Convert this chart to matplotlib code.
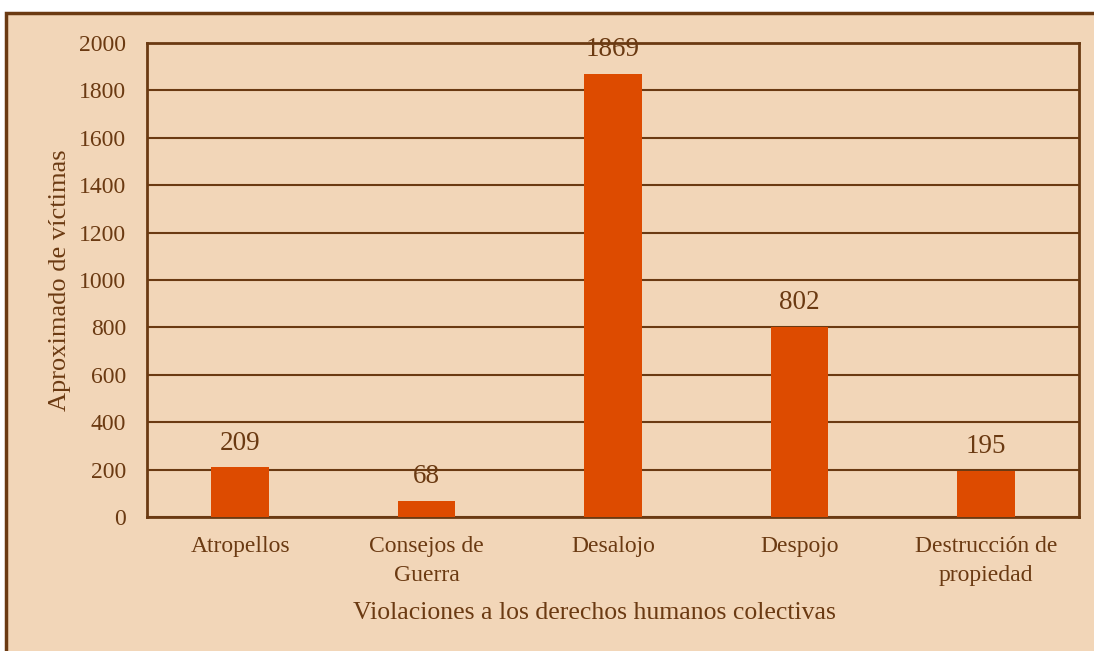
import matplotlib
matplotlib.use("Agg")
import matplotlib.pyplot as plt
from matplotlib.patches import Rectangle

categories = ["Atropellos", "Consejos de\nGuerra", "Desalojo", "Despojo", "Destrucción de\npropiedad"]
values = [209, 68, 1869, 802, 195]
yticks = [0, 200, 400, 600, 800, 1000, 1200, 1400, 1600, 1800, 2000]

bg = "#F2D6B8"
brown = "#6B3A12"
bar_color = "#DD4B00"

plt.rcParams['font.family'] = ['Liberation Serif', 'DejaVu Serif']

fig = plt.figure(figsize=(10.94, 6.51), dpi=100)
fig.patch.set_facecolor("white")
fig.patches.append(Rectangle((6/1094, -0.05), 1.2, 1 - 13/651 + 0.05, transform=fig.transFigure,
                             facecolor=bg, edgecolor=brown, linewidth=2.5, zorder=-10))

ax = fig.add_axes([147/1094, 1 - 517/651, (1079 - 147)/1094, (517 - 43)/651])
ax.set_facecolor(bg)
x = range(len(categories))
ax.bar(x, values, width=0.31, color=bar_color, zorder=3)
for xi, v in zip(x, values):
    ax.text(xi, v + 50, str(v), ha="center", va="bottom", fontsize=19.5, color=brown, zorder=4)

ax.set_xlim(-0.5, len(categories) - 0.5)
ax.set_ylim(0, 2000)
ax.set_yticks(yticks)
ax.set_yticklabels([str(t) for t in yticks], fontsize=17, color=brown)
ax.set_xticks(list(x))
ax.set_xticklabels(categories, fontsize=17, color=brown, linespacing=1.45)
ax.tick_params(axis="y", length=0, pad=15)
ax.tick_params(axis="x", length=0, pad=14)
ax.grid(axis="y", color=brown, linewidth=1.5, zorder=1)
for s in ax.spines.values():
    s.set_color(brown)
    s.set_linewidth(2)
ax.set_xlabel("Violaciones a los derechos humanos colectivas", fontsize=18.5, color=brown, labelpad=12)
ax.xaxis.label.set_x(0.48)
ax.set_ylabel("Aproximado de víctimas", fontsize=19, color=brown, labelpad=6)

fig.savefig("out.png", dpi=100, facecolor=fig.get_facecolor())
